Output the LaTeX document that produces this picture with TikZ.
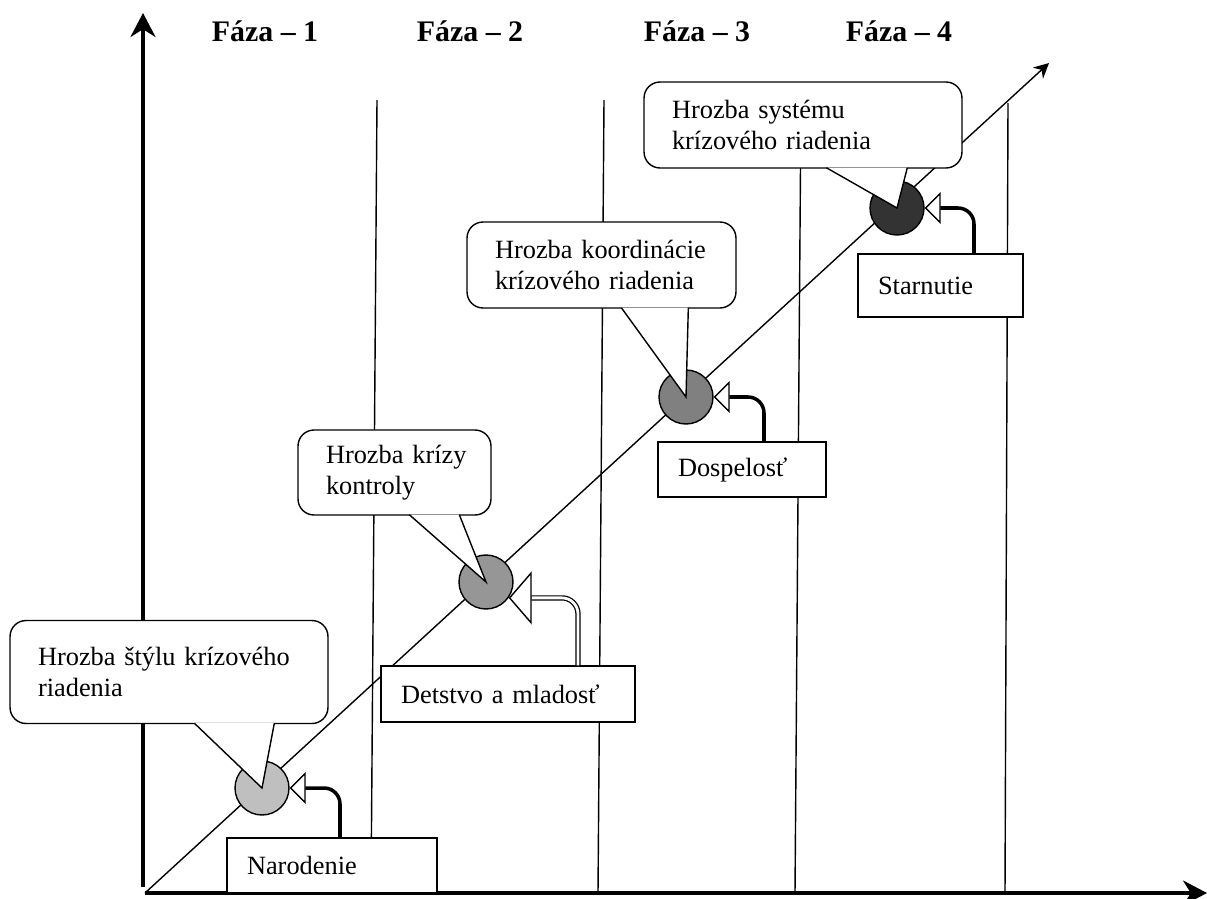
\documentclass[tikz,border=0pt]{standalone}
\usepackage{fontspec}
\setmainfont{Liberation Serif}
\usetikzlibrary{arrows.meta,calc}
\tikzstyle{phase}=[draw,line width=0.8pt]
\tikzstyle{mainaxis}=[draw,line width=2pt,-{Stealth[length=0.48cm,width=0.5cm]}]
\tikzstyle{growth}=[draw,line width=0.8pt,-{Stealth[length=0.3cm,width=0.3cm]}]
\tikzstyle{crisis}=[circle,draw,thick,minimum size=1.08cm,inner sep=0pt]
\tikzstyle{bubble}=[draw,thick,fill=white,rounded corners=0.32cm,inner xsep=0.56cm,align=left,font=\fontsize{15pt}{17.5pt}\selectfont]
\tikzstyle{beak}=[draw,thick,fill=white,line join=miter]
\tikzstyle{stage}=[draw,thick,fill=white,rectangle,inner xsep=0.4cm,align=left,font=\fontsize{15pt}{17.5pt}\selectfont]
\tikzstyle{link}=[draw,line width=2pt,rounded corners=0.32cm,-{Triangle[open,length=0.32cm,width=0.64cm,line width=0.8pt]}]
\tikzstyle{twin}=[draw,line width=0.7pt,double=white,double distance=1.6pt,rounded corners=0.32cm,-{Triangle[open,length=0.46cm,width=1.06cm,line width=0.8pt]}]
\tikzstyle{phasetitle}=[font=\fontsize{17pt}{20pt}\selectfont\bfseries,anchor=base]

\begin{document}
\begin{tikzpicture}[x={(0.02cm,0)},y={(0,-0.02cm)}]
    \useasboundingbox (0,0) rectangle (1207,899);
    % First we draw the borders between the phases
    \foreach \top/\bottom in {{(377,100)/(371,893)}, {(604,100)/(598,893)}, {(801,100)/(795,893)}, {(1008,103)/(1005,893)}}
        \draw[phase] \top -- \bottom;
    % Axes and the growth line
    \coordinate (o) at (145,893);
    \coordinate (ybase) at (143,887);
    \coordinate (ytop) at (143,13);
    \coordinate (xend) at (1207,893);
    \coordinate (gend) at (1049,63);
    \draw[mainaxis] (ybase) -- (ytop);
    \draw[mainaxis] (o) -- (xend);
    \draw[growth] (o) -- (gend);
    % Crisis points on the growth line
    \foreach \pos/\name/\tone in {{(262,788)/c1/25}, {(486,582)/c2/41}, {(686,397)/c3/50}, {(897,208)/c4/80}}
        \node[crisis,fill=black!\tone] (\name) at \pos {};
    % Callouts with the threats
    \node[bubble,text width=5.24cm,minimum height=2.06cm] (t1) at (169,672) {Hrozba~štýlu~krízového\\riadenia};
    \node[bubble,text width=2.74cm,minimum height=1.7cm] (t2) at (394.5,472.5) {Hrozba~krízy\\kontroly};
    \node[bubble,text width=4.26cm,minimum height=1.72cm] (t3) at (601.5,265) {Hrozba~koordinácie\\krízového~riadenia};
    \node[bubble,text width=5.24cm,minimum height=1.72cm] (t4) at (803,125) {Hrozba~systému\\krízového~riadenia};
    \foreach \name/\ba/\bb/\circ in {t1/185/265/c1, t2/112/162/c2, t3/155/222/c3, t4/183/264/c4}
        \filldraw[beak] ($(\name.south west)+(\ba,-1)$) -- (\circ.center) -- ($(\name.south west)+(\bb,-1)$);
    % Stages of the life cycle
    \node[stage,text width=3.4cm,minimum height=1.1cm] (n1) at (332,865.5) {Narodenie};
    \node[stage,text width=4.28cm,minimum height=1.12cm] (n2) at (508,694) {Detstvo a mladosť};
    \node[stage,text width=2.56cm,minimum height=1.1cm] (n3) at (742,469.5) {Dospelosť};
    \node[stage,text width=2.5cm,minimum height=1.26cm] (n4) at (940.5,285.5) {Starnutie};
    % Connect stages with crisis points
    \draw[link] ([xshift=0.16cm]n1.north) |- (c1.east);
    \draw[twin] ([xshift=1.4cm]n2.north) |- (c2.-35);
    \draw[link] ([xshift=0.44cm]n3.north) |- (c3.east);
    \draw[link] ([xshift=0.67cm]n4.north) |- (c4.east);
    % Phase titles
    \foreach \x/\n in {265/1, 470/2, 697/3, 899/4}
        \node[phasetitle] (f\n) at (\x,41) {Fáza – \n};
\end{tikzpicture}
\end{document}
